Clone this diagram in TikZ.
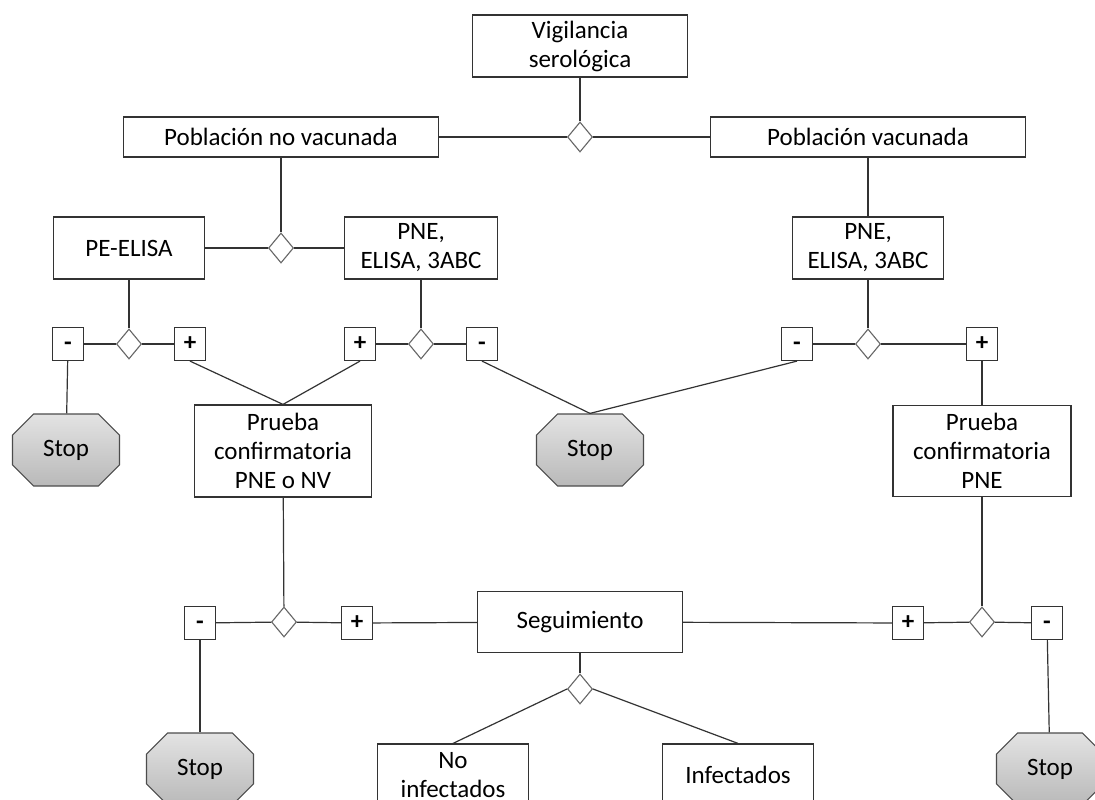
\documentclass[tikz,border=0pt]{standalone}
\usepackage{fontspec}
\setmainfont{Carlito}
\usetikzlibrary{shapes.geometric,shapes.misc}

\tikzset{
    caja/.style={draw=black!80, line width=1.2pt, fill=white, align=center, inner sep=0pt},
    rombo/.style={diamond, draw=black!60, line width=1.1pt, fill=white, minimum width=25pt, minimum height=30pt, inner sep=0pt},
    signo/.style={draw=black!80, line width=1.2pt, fill=white, minimum width=31pt, minimum height=33pt, inner sep=0pt, text height=12pt, text depth=0pt, font=\fontsize{25}{27}\selectfont\bfseries},
    alto/.style={chamfered rectangle, chamfered rectangle xsep=11pt, chamfered rectangle ysep=11pt, draw=black!70, line width=1.2pt, top color=gray!22, bottom color=gray!55, minimum width=107pt, minimum height=72pt, inner sep=0pt},
    linea/.style={draw=black!80, line width=1.2pt}
}

\begin{document}
\begin{tikzpicture}[x=1pt, y=-1pt, font=\fontsize{25}{29}\selectfont]
    \clip (0,0) rectangle (1095,800);
    \fill[white] (0,0) rectangle (1095,800);

    % cajas
    \node[caja, minimum width=215pt, minimum height=62pt] (vigilancia) at (580,46) {Vigilancia\\serológica};
    \node[caja, minimum width=315pt, minimum height=40pt] (novacunada) at (281,137) {Población no vacunada};
    \node[caja, minimum width=315pt, minimum height=40pt] (vacunada) at (868,137) {Población vacunada};
    \node[caja, minimum width=151pt, minimum height=62pt] (peelisa) at (129,248) {PE-ELISA};
    \node[caja, minimum width=153pt, minimum height=62pt] (pneizq) at (421,248) {PNE,\\ELISA, 3ABC};
    \node[caja, minimum width=151pt, minimum height=62pt] (pneder) at (868,248) {PNE,\\ELISA, 3ABC};
    \node[caja, minimum width=177pt, minimum height=92pt] (pruebaizq) at (283,451) {Prueba\\confirmatoria\\PNE o NV};
    \node[caja, minimum width=178pt, minimum height=91pt] (pruebader) at (982,451) {Prueba\\confirmatoria\\PNE};
    \node[caja, minimum width=205pt, minimum height=61pt] (seguimiento) at (580,622) {Seguimiento};
    \node[caja, minimum width=151pt, minimum height=62pt] (noinf) at (453,775) {No\\infectados};
    \node[caja, minimum width=151pt, minimum height=62pt] (inf) at (738,775) {Infectados};

    % rombos
    \node[rombo] (r1) at (580,137) {};
    \node[rombo] (r2) at (281,248) {};
    \node[rombo] (r3) at (129,344) {};
    \node[rombo] (r4) at (421,344) {};
    \node[rombo] (r5) at (868,344) {};
    \node[rombo] (r6) at (284,622) {};
    \node[rombo] (r7) at (982,622) {};
    \node[rombo] (r8) at (580,689) {};

    % signos
    \node[signo] (m1) at (68,344) {-};
    \node[signo] (p1) at (190,344) {+};
    \node[signo] (p2) at (360,344) {+};
    \node[signo] (m2) at (482,344) {-};
    \node[signo] (m3) at (797,344) {-};
    \node[signo] (p3) at (982,344) {+};
    \node[signo] (m4) at (200,623) {-};
    \node[signo] (p4) at (357,623) {+};
    \node[signo] (p5) at (908,623) {+};
    \node[signo] (m5) at (1047,623) {-};

    % stop
    \node[alto] (s1) at (66,450) {Stop};
    \node[alto] (s2) at (590,450) {Stop};
    \node[alto] (s3) at (200,769) {Stop};
    \node[alto] (s4) at (1050,769) {Stop};

    % lineas
    \draw[linea] (vigilancia) -- (r1);
    \draw[linea] (novacunada) -- (r1) -- (vacunada);
    \draw[linea] (novacunada) -- (r2);
    \draw[linea] (peelisa) -- (r2) -- (pneizq);
    \draw[linea] (peelisa) -- (r3);
    \draw[linea] (m1) -- (r3) -- (p1);
    \draw[linea] (pneizq) -- (r4);
    \draw[linea] (p2) -- (r4) -- (m2);
    \draw[linea] (vacunada) -- (pneder);
    \draw[linea] (pneder) -- (r5);
    \draw[linea] (m3) -- (r5) -- (p3);
    \draw[linea] (m1) -- (s1);
    \draw[linea] (p1.south) -- (pruebaizq.north);
    \draw[linea] (p2.south) -- (pruebaizq.north);
    \draw[linea] (m2.south) -- (s2.north);
    \draw[linea] (m3.south) -- (s2.north);
    \draw[linea] (p3) -- (pruebader);
    \draw[linea] (pruebaizq) -- (r6);
    \draw[linea] (m4) -- (r6) -- (p4) -- (seguimiento);
    \draw[linea] (m4) -- (s3);
    \draw[linea] (pruebader) -- (r7);
    \draw[linea] (seguimiento) -- (p5) -- (r7) -- (m5);
    \draw[linea] (m5) -- (s4);
    \draw[linea] (seguimiento) -- (r8);
    \draw[linea] (r8.west) -- (noinf.north);
    \draw[linea] (r8.east) -- (inf.north);
\end{tikzpicture}
\end{document}
